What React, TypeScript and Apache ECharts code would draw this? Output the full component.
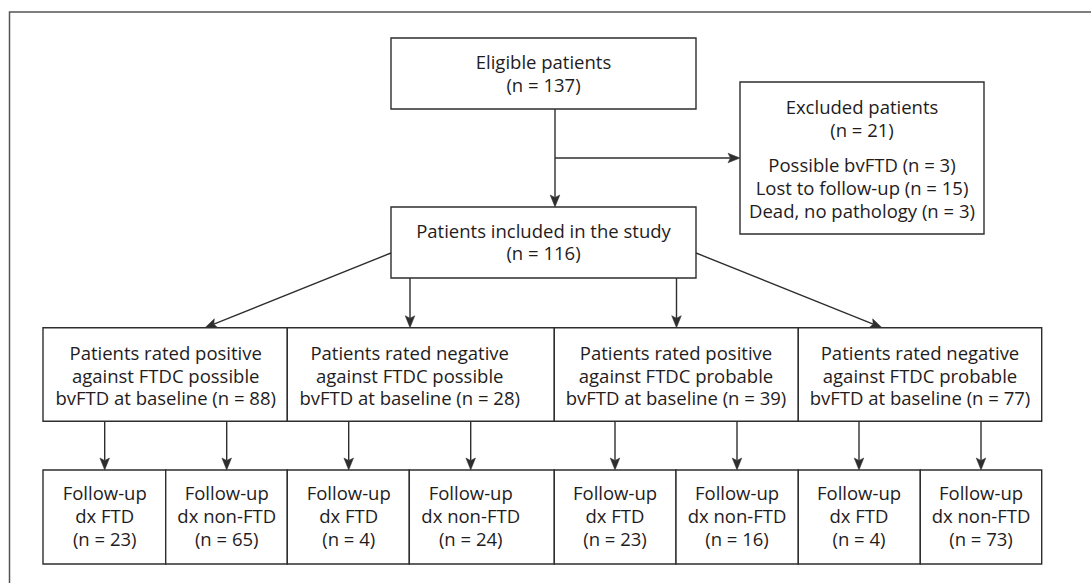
import React, { useEffect, useRef } from "react";
import * as echarts from "echarts";

// ---- data ----
const eligibleLabel = "Eligible patients";
const eligibleN = 137;
const excludedLabel = "Excluded patients";
const excludedN = 21;
const excludedReasons = ["Possible bvFTD", "Lost to follow-up", "Dead, no pathology"];
const excludedCounts = [3, 15, 3];
const includedLabel = "Patients included in the study";
const includedN = 116;
const baselineRatings = ["positive", "negative", "positive", "negative"];
const baselineCriteria = ["possible", "possible", "probable", "probable"];
const baselineCounts = [88, 28, 39, 77];
const followUpDx = ["FTD", "non-FTD", "FTD", "non-FTD", "FTD", "non-FTD", "FTD", "non-FTD"];
const followUpCounts = [23, 65, 4, 24, 23, 16, 4, 73];

// ---- styles ----
const INK = "#1f1c1d";
const BOX = "#2e2e2e";

function txt(x: number, y: number, lines: string[], lh = 22.6) {
  return {
    type: "text",
    x,
    y,
    silent: true,
    style: {
      text: lines.join("\n"),
      fill: INK,
      fontSize: 18.5,
      fontFamily: '"Open Sans"',
      lineHeight: lh,
      align: "center",
      textAlign: "center",
      verticalAlign: "middle",
      textVerticalAlign: "middle",
    },
  };
}

function box(x1: number, y1: number, x2: number, y2: number) {
  return {
    type: "rect",
    silent: true,
    shape: { x: x1, y: y1, width: x2 - x1, height: y2 - y1 },
    style: { fill: "#fff", stroke: BOX, lineWidth: 1.4 },
  };
}

function arrow(x1: number, y1: number, x2: number, y2: number) {
  const len = 12;
  const half = 4.8;
  const dx = x2 - x1;
  const dy = y2 - y1;
  const L = Math.hypot(dx, dy);
  const ux = dx / L;
  const uy = dy / L;
  const bx = x2 - ux * len;
  const by = y2 - uy * len;
  const px = -uy;
  const py = ux;
  const nx = bx + ux * 2.5;
  const ny = by + uy * 2.5;
  return [
    {
      type: "line",
      silent: true,
      shape: { x1, y1, x2: nx, y2: ny },
      style: { stroke: BOX, lineWidth: 1.4 },
    },
    {
      type: "polygon",
      silent: true,
      shape: {
        points: [
          [x2, y2],
          [bx + px * half, by + py * half],
          [nx, ny],
          [bx - px * half, by - py * half],
        ],
      },
      style: { fill: BOX, stroke: BOX, lineWidth: 0.5 },
    },
  ];
}

function buildGraphic() {
  const els: any[] = [];

  // outer frame (top and left edges visible)
  els.push({
    type: "polyline",
    silent: true,
    shape: { points: [[9.5, 600], [9.5, 12], [1100, 12]] },
    style: { stroke: "#555", lineWidth: 1.5, fill: "none" },
  });

  // eligible
  els.push(box(391, 38, 696, 109));
  els.push(txt(543.5, 73, [eligibleLabel, `(n = ${eligibleN})`]));

  // excluded
  els.push(box(740, 82, 984, 234));
  els.push(txt(862, 118, [excludedLabel, `(n = ${excludedN})`]));
  els.push(
    txt(
      862,
      187,
      excludedReasons.map((r, i) => `${r} (n = ${excludedCounts[i]})`),
      23
    )
  );

  // arrows eligible -> included / excluded
  els.push(...arrow(555, 109, 555, 207));
  els.push(...arrow(555, 158, 740, 158));

  // included
  els.push(box(391, 207, 696, 278));
  els.push(txt(543.5, 241.5, [includedLabel, `(n = ${includedN})`]));

  // level 2
  const l2Edges = [43, 287.3, 554.3, 798.3, 1041.7];
  const l2Top = 327.7;
  const l2Bot = 421.3;
  const l3Centers = [104.7, 226.7, 348.7, 470.7, 615, 737, 859, 981];
  const l2ArrowTargets = [
    [391, 253, 205, 327.7],
    [410, 278, 410, 327.7],
    [676.5, 278, 676.5, 327.7],
    [696, 253, 882, 327.7],
  ];
  l2ArrowTargets.forEach((a) => els.push(...arrow(a[0], a[1], a[2], a[3])));

  for (let i = 0; i < 4; i++) {
    els.push(box(l2Edges[i], l2Top, l2Edges[i + 1], l2Bot));
    const cx = (l3Centers[2 * i] + l3Centers[2 * i + 1]) / 2;
    els.push(
      txt(cx, 375, [
        `Patients rated ${baselineRatings[i]}`,
        `against FTDC ${baselineCriteria[i]}`,
        `bvFTD at baseline (n = ${baselineCounts[i]})`,
      ])
    );
  }

  // level 3
  const l3Edges = [43, 165.7, 287.3, 409.3, 554.3, 676, 798.3, 920.3, 1041.7];
  const l3Top = 470;
  const l3Bot = 564;
  for (let j = 0; j < 8; j++) {
    els.push(...arrow(l3Centers[j], l2Bot, l3Centers[j], l3Top));
    els.push(box(l3Edges[j], l3Top, l3Edges[j + 1], l3Bot));
    els.push(
      txt(
        l3Centers[j],
        515.5,
        ["Follow-up", `dx ${followUpDx[j]}`, `(n = ${followUpCounts[j]})`],
        22.8
      )
    );
  }

  return els;
}

export default function App() {
  const ref = useRef<HTMLDivElement>(null);
  useEffect(() => {
    if (!ref.current) return;
    const chart = echarts.init(ref.current, null, { renderer: "svg" });
    chart.setOption({
      animation: false,
      backgroundColor: "#fff",
      graphic: { elements: buildGraphic() },
    });
    return () => chart.dispose();
  }, []);
  return (
    <div
      ref={ref}
      style={{ position: "fixed", left: 0, top: 0, width: 1091, height: 583, background: "#fff" }}
    />
  );
}
